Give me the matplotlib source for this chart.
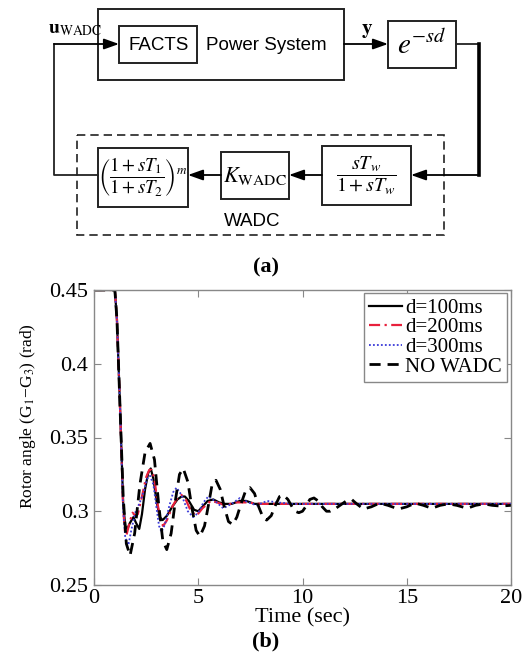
import matplotlib
matplotlib.use("Agg")
import matplotlib.pyplot as plt
from matplotlib.patches import Rectangle

plt.rcParams['font.family'] = ['Liberation Serif', 'DejaVu Serif']
plt.rcParams['mathtext.fontset'] = 'stix'

# ---------------- data ----------------
t_100 = [0, 1.0, 1.1, 1.25, 1.4, 1.5, 1.6, 1.72, 1.89, 2.02, 2.17, 2.3, 2.45, 2.6, 2.72, 2.85, 3.0, 3.15,
         3.29, 3.5, 3.75, 4.0, 4.2, 4.36, 4.55, 4.8, 5.0, 5.2, 5.45, 5.72, 6.0, 6.25, 6.6, 7.0, 7.3, 7.7,
         8.2, 9.0, 20]
v_100 = [0.45, 0.45, 0.43, 0.37, 0.305, 0.29, 0.288, 0.292, 0.296, 0.292, 0.288, 0.298, 0.315, 0.326,
         0.329, 0.322, 0.307, 0.296, 0.294, 0.297, 0.303, 0.308, 0.310, 0.310, 0.307, 0.301, 0.300, 0.303,
         0.307, 0.308, 0.306, 0.305, 0.305, 0.307, 0.307, 0.305, 0.305, 0.305, 0.305]

t_200 = [0, 1.0, 1.1, 1.25, 1.4, 1.48, 1.56, 1.7, 1.85, 1.98, 2.1, 2.3, 2.5, 2.65, 2.77, 2.9, 3.05, 3.2,
         3.32, 3.5, 3.75, 4.0, 4.2, 4.4, 4.65, 4.92, 5.2, 5.6, 5.9, 6.3, 6.8, 7.3, 8.0, 20]
v_200 = [0.45, 0.45, 0.43, 0.37, 0.302, 0.287, 0.284, 0.292, 0.299, 0.297, 0.298, 0.310, 0.323, 0.328,
         0.328, 0.322, 0.305, 0.293, 0.290, 0.294, 0.303, 0.309, 0.311, 0.308, 0.300, 0.297, 0.302, 0.307,
         0.306, 0.304, 0.306, 0.306, 0.305, 0.305]

t_300 = [0, 1.0, 1.1, 1.25, 1.4, 1.5, 1.65, 1.8, 2.0, 2.2, 2.4, 2.55, 2.69, 2.85, 3.0, 3.12, 3.24, 3.4,
         3.6, 3.8, 3.96, 4.2, 4.5, 4.76, 5.0, 5.25, 5.48, 5.8, 6.2, 6.6, 7.0, 7.4, 7.8, 8.3, 8.8, 9.5, 20]
v_300 = [0.45, 0.45, 0.43, 0.37, 0.30, 0.282, 0.277, 0.288, 0.300, 0.306, 0.314, 0.322, 0.324, 0.318,
         0.302, 0.290, 0.286, 0.291, 0.303, 0.313, 0.316, 0.311, 0.300, 0.296, 0.299, 0.306, 0.310, 0.307,
         0.302, 0.305, 0.309, 0.306, 0.304, 0.307, 0.306, 0.305, 0.305]

t_no = [0, 1.0, 1.1, 1.25, 1.4, 1.55, 1.73, 1.95, 2.2, 2.45, 2.69, 2.9, 3.1, 3.3, 3.49, 3.7, 3.9, 4.1,
        4.28, 4.5, 4.7, 4.9, 5.08, 5.3, 5.5, 5.65, 5.85, 6.05, 6.25, 6.45, 6.65, 6.85, 7.05, 7.25, 7.48,
        7.7, 7.9, 8.1, 8.28, 8.5, 8.7, 8.9, 9.08, 9.3, 9.5, 9.65, 9.82, 10.0, 10.2, 10.35, 10.55, 10.75,
        10.95, 11.15, 11.32, 11.6, 11.9, 12.1, 12.36, 12.6, 12.92, 13.3, 13.7, 14.1, 14.6, 15.0, 15.4,
        15.8, 16.2, 16.6, 17.0, 17.4, 17.9, 18.3, 18.7, 19.1, 19.5, 20]
v_no = [0.45, 0.45, 0.43, 0.37, 0.31, 0.278, 0.270, 0.285, 0.318, 0.340, 0.346, 0.335, 0.305, 0.280,
        0.274, 0.285, 0.307, 0.325, 0.329, 0.320, 0.302, 0.287, 0.283, 0.290, 0.305, 0.317, 0.321, 0.315,
        0.303, 0.293, 0.291, 0.296, 0.305, 0.313, 0.316, 0.312, 0.303, 0.296, 0.294, 0.297, 0.304, 0.310,
        0.311, 0.308, 0.303, 0.300, 0.299, 0.300, 0.304, 0.308, 0.309, 0.307, 0.303, 0.300, 0.300, 0.302,
        0.305, 0.307, 0.308, 0.305, 0.3015, 0.303, 0.3055, 0.304, 0.3015, 0.303, 0.3055, 0.304, 0.302,
        0.304, 0.305, 0.304, 0.302, 0.304, 0.305, 0.304, 0.3035, 0.304]

series_labels = ['d=100ms', 'd=200ms', 'd=300ms', 'NO WADC']
x_ticks = [0, 5, 10, 15, 20]
y_ticks = [0.25, 0.30, 0.35, 0.40, 0.45]
y_tick_labels = ['0.25', '0.3', '0.35', '0.4', '0.45']

W, H = 522, 656
fig = plt.figure(figsize=(W / 100, H / 100), dpi=100)

# ---------------- block diagram (a) ----------------
d = fig.add_axes([0, 0, 1, 1])
d.set_xlim(0, W)
d.set_ylim(H, 0)
d.axis('off')
ec = '#222222'

def box(x0, y0, x1, y1, **kw):
    d.add_patch(Rectangle((x0, y0), x1 - x0, y1 - y0, fill=False, ec=kw.get('ec', ec),
                          lw=kw.get('lw', 1.4), ls=kw.get('ls', '-')))

def arrow(x0, y0, x1, y1):
    d.annotate('', xy=(x1, y1), xytext=(x0, y0),
               arrowprops=dict(arrowstyle='-|>,head_length=0.9,head_width=0.32', color='black',
                               lw=1.3, shrinkA=0, shrinkB=0))

box(98, 9, 344, 80)
box(119, 26, 197, 63)
box(388, 21, 456, 68)
box(322, 146, 411, 205)
box(221, 152, 289, 199)
box(98, 148, 188, 207)
box(77, 135, 444, 235, lw=1.2, ls=(0, (5, 3)))

sans = ['Liberation Sans', 'DejaVu Sans']
d.text(159, 45, 'FACTS', family=sans, fontsize=13.5, ha='center', va='center')
d.text(266, 45, 'Power System', family=sans, fontsize=13.5, ha='center', va='center')
d.text(252, 222, 'WADC', family=sans, fontsize=13.5, ha='center', va='center')

d.text(422, 45, r'$e^{-sd}$', fontsize=21, ha='center', va='center')
d.text(367, 31, r'$\mathbf{y}$', fontsize=15, ha='center', va='center')
d.text(75, 30, r'$\mathbf{u}_{\mathrm{WADC}}$', fontsize=14, ha='center', va='center')
d.text(255, 176, r'$K_{\mathrm{WADC}}$', fontsize=16, ha='center', va='center')
d.text(366, 176, r'$\dfrac{sT_w}{1+sT_w}$', fontsize=14.5, ha='center', va='center')
d.text(143, 177, r'$\left(\dfrac{1+sT_1}{1+sT_2}\right)^{m}$', fontsize=13.5, ha='center', va='center')

# signal lines
d.plot([98, 54, 54], [175, 175, 44], color=ec, lw=1.3)
arrow(54, 44, 119, 44)
arrow(344, 44, 388, 44)
d.plot([456, 479], [44, 44], color=ec, lw=1.3)
d.plot([479, 479], [44, 175], color='black', lw=2.6)
arrow(479, 175, 411, 175)
arrow(322, 175, 289, 175)
arrow(221, 175, 188, 175)

d.text(266, 267, '(a)', fontsize=16, fontweight='bold', ha='center', va='center')
d.text(266, 641, '(b)', fontsize=16, fontweight='bold', ha='center', va='center')

# ---------------- response plot (b) ----------------
ax = fig.add_axes([94 / W, 1 - 585 / H, 417 / W, 295 / H])
ax.plot(t_100, v_100, color='black', lw=1.6, label=series_labels[0])
ax.plot(t_200, v_200, color='#e8203c', lw=1.6, ls=(0, (5, 2, 1, 2)), label=series_labels[1])
ax.plot(t_300, v_300, color='#3a3ad8', lw=1.3, ls=(0, (1, 1.2)), label=series_labels[2])
ax.plot(t_no, v_no, color='black', lw=2.0, ls=(0, (4, 2.5)), label=series_labels[3])

ax.set_xlim(0, 20)
ax.set_ylim(0.25, 0.45)
ax.set_xticks(x_ticks)
ax.set_xticklabels([str(v) for v in x_ticks], family='Liberation Serif')
ax.set_yticks(y_ticks)
ax.set_yticklabels(y_tick_labels, family='Liberation Serif')
ax.tick_params(direction='in', top=True, right=True, length=5, labelsize=16,
               color='#888888')
ax.tick_params(axis='x', pad=3)
ax.tick_params(axis='y', pad=4)
for s in ax.spines.values():
    s.set_color('#888888')
    s.set_linewidth(1.0)
ax.set_xlabel('Time (sec)', fontsize=16)
ax.xaxis.set_label_coords(0.5, -0.078)
ax.set_ylabel('Rotor angle (G$_1$−G$_3$) (rad)', fontsize=12.5)
ax.yaxis.set_label_coords(-0.135, 0.573)

leg = ax.legend(loc='upper right', bbox_to_anchor=(507 / W, 1 - 293 / H),
                bbox_transform=fig.transFigure, borderaxespad=0, fontsize=15,
                frameon=True, fancybox=False, framealpha=1, edgecolor='#888888',
                handlelength=1.6, handletextpad=0.15, labelspacing=0.0, borderpad=0.25)
leg.get_frame().set_linewidth(1.0)

fig.savefig('out.png', dpi=100)
